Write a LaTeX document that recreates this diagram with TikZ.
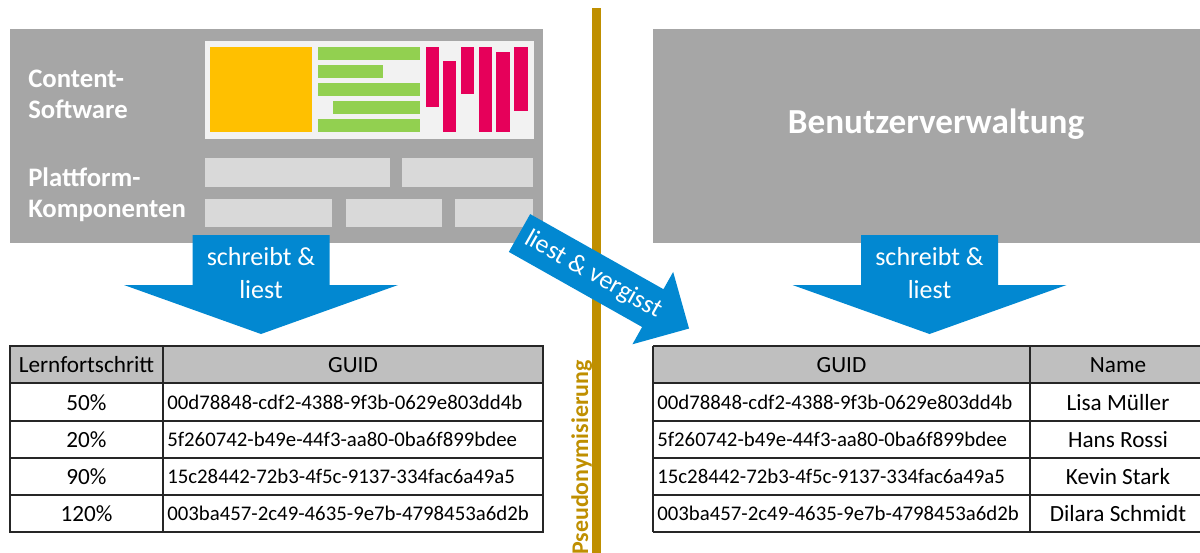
\documentclass[tikz,border=0pt]{standalone}
\usepackage{fontspec}
\setmainfont{Carlito}
\usetikzlibrary{positioning}
\definecolor{boxgray}{HTML}{A6A6A6}
\definecolor{bargray}{HTML}{D9D9D9}
\definecolor{panel}{HTML}{F2F2F2}
\definecolor{orangeblock}{HTML}{FFC000}
\definecolor{greenbar}{HTML}{92D050}
\definecolor{pinkbar}{HTML}{E6005A}
\definecolor{flowblue}{HTML}{0288D1}
\definecolor{borderline}{HTML}{BF8F00}
\definecolor{headgray}{HTML}{BFBFBF}
\tikzset{
  boxlabel/.style={text=white, font=\bfseries\fontsize{19}{22}\selectfont, align=left, inner sep=0pt},
  flowtext/.style={text=white, font=\fontsize{18.5}{23}\selectfont, align=center, inner sep=0pt},
  cell/.style={font=\fontsize{16.5}{20}\selectfont, inner sep=0pt, text height=1.6ex, text depth=.3ex},
  guidcell/.style={font=\fontsize{14.8}{18}\selectfont, inner sep=0pt, text height=1.6ex, text depth=.3ex},
  grid/.style={draw=black!85, line width=0.9pt},
}

\begin{document}
\begin{tikzpicture}[x=0.025cm, y=-0.025cm]
      \useasboundingbox (0,0) rectangle (1200,552);
      % left block: content software and platform
      \fill[boxgray] (10,29) rectangle (543,243);
      \fill[panel] (205,41) rectangle (534,139);
      \fill[orangeblock] (210,47) rectangle (312,132);
      \foreach \xa/\ya/\xb/\yb in {318/47/420/60, 318/65/383/78, 318/83/420/96,
                                   333/101/420/114, 318/119/420/132}
      {
        \fill[greenbar] (\xa,\ya) rectangle (\xb,\yb);
      }
      \foreach \xa/\ya/\xb/\yb in {426/47/439/107, 443/61/456/132, 461/47/474/94,
                                   479/47/492/132, 496/52/510/132, 514/47/528/111}
      {
        \fill[pinkbar] (\xa,\ya) rectangle (\xb,\yb);
      }
      \foreach \xa/\ya/\xb/\yb in {205/158/390/187, 402/158/533/187,
                                   205/199/332/227, 346/199/442/227, 455/199/533/227}
      {
        \fill[bargray] (\xa,\ya) rectangle (\xb,\yb);
      }
      \node[boxlabel, anchor=west] (content) at (28,94) {Content-\\Software};
      \node[boxlabel, anchor=west] (platform) at (28,195) {Plattform-\\Komponenten};

      % right block
      \fill[boxgray] (653,29) rectangle (1210,243);
      \node[text=white, font=\bfseries\fontsize{25}{30}\selectfont, anchor=base]
        (users) at (936,133) {Benutzerverwaltung};

      % separation line
      \fill[borderline] (592,8) rectangle (601,560);
      \node[text=borderline, font=\bfseries\fontsize{17}{20}\selectfont,
        rotate=90, anchor=base east, inner sep=0pt] (pseudo) at (588,360) {Pseudonymisierung};

      % down arrows
      \foreach \cx/\nm in {261/writeleft, 929.5/writeright}
      {
        \fill[flowblue] (\cx-68.5,235) -- (\cx+68.5,235) -- (\cx+68.5,285)
          -- (\cx+137,285) -- (\cx,334) -- (\cx-137,285) -- (\cx-68.5,285) -- cycle;
        \node[flowtext] (\nm) at (\cx,273) {schreibt \&\\liest};
      }

      % diagonal arrow
      \begin{scope}[shift={(519.5,233)}, rotate=-29.4]
        \fill[flowblue] (0,-21.7) -- (153,-21.7) -- (153,-41.5) -- (194.6,0)
          -- (153,41.5) -- (153,21.7) -- (0,21.7) -- cycle;
        \node[flowtext, rotate=-29.4] (forget) at (85,0) {liest \& vergisst};
      \end{scope}

      % left table
      \fill[headgray] (10,346) rectangle (543,383);
      \draw[grid] (10,346) rectangle (543,532);
      \draw[grid] (163,346) -- (163,532);
      \foreach \y in {383,421,458,495}
      {
        \draw[grid] (10,\y) -- (543,\y);
      }
      \node[cell] (progress) at (86.5,368) {Lernfortschritt};
      \node[cell] (guidleft) at (353,368) {GUID};
      % right table
      \fill[headgray] (653,346) rectangle (1210,383);
      \draw[grid] (653,346) -- (1210,346) (653,532) -- (1210,532) (653,346) -- (653,532);
      \draw[grid] (1030,346) -- (1030,532);
      \foreach \y in {383,421,458,495}
      {
        \draw[grid] (653,\y) -- (1210,\y);
      }
      \node[cell] (guidright) at (841.5,368) {GUID};
      \node[cell] (name) at (1118,368) {Name};
      \foreach \i/\y/\p/\g/\n in {
          1/406/50\%/00d78848-cdf2-4388-9f3b-0629e803dd4b/Lisa Müller,
          2/443.5/20\%/5f260742-b49e-44f3-aa80-0ba6f899bdee/Hans Rossi,
          3/480.5/90\%/15c28442-72b3-4f5c-9137-334fac6a49a5/Kevin Stark,
          4/517.5/120\%/003ba457-2c49-4635-9e7b-4798453a6d2b/Dilara Schmidt}
      {
        \node[cell] (p\i) at (86.5,\y) {\p};
        \node[guidcell, anchor=west] (gl\i) at (167,\y-1) {\g};
        \node[guidcell, anchor=west] (gr\i) at (657,\y-1) {\g};
        \node[cell] (n\i) at (1118,\y) {\n};
      }
    \end{tikzpicture}
\end{document}
